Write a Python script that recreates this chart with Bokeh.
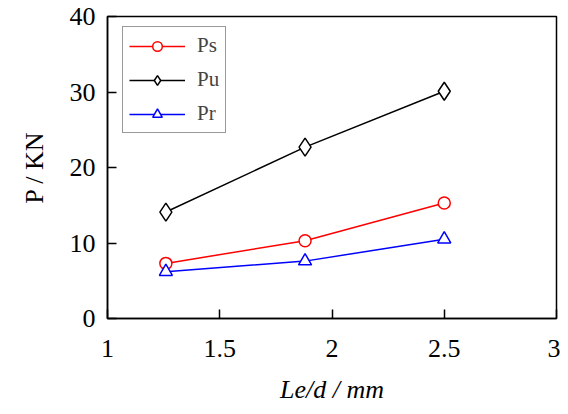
from bokeh.plotting import figure
from bokeh.models import Range1d, FixedTicker, Legend, LegendItem
from bokeh.embed import file_html
from bokeh.resources import INLINE

# Data
x_vals = [1.26, 1.88, 2.5]
ps_vals = [7.3, 10.3, 15.3]
pu_vals = [14.1, 22.7, 30.1]
pr_vals = [6.2, 7.6, 10.5]
x_ticks = [1, 1.5, 2, 2.5, 3]
y_ticks = [0, 10, 20, 30, 40]

FONT = "Liberation Serif"

p = figure(width=560, height=406, output_backend="svg", toolbar_location=None,
           x_range=Range1d(1, 3), y_range=Range1d(0, 40),
           min_border_left=107, min_border_right=4, min_border_top=16, min_border_bottom=88)
p.grid.visible = False
p.outline_line_color = "black"
p.outline_line_width = 1.5

p.axis.major_tick_in = 9
p.axis.major_tick_out = 0
p.axis.minor_tick_in = 0
p.axis.minor_tick_out = 0
p.axis.axis_line_width = 1.5
p.axis.major_tick_line_width = 1.5
p.axis.major_label_text_font = FONT
p.axis.major_label_text_font_size = "26px"
p.axis.major_label_text_color = "black"
p.axis.axis_label_text_font = FONT
p.axis.axis_label_text_font_size = "26px"
p.axis.axis_label_text_color = "black"

p.xaxis.ticker = FixedTicker(ticks=x_ticks)
p.yaxis.ticker = FixedTicker(ticks=y_ticks)
p.xaxis.major_label_overrides = {1: "1", 1.5: "1.5", 2: "2", 2.5: "2.5", 3: "3"}
p.xaxis.major_label_standoff = 21
p.yaxis.major_label_standoff = 12
p.xaxis.axis_label = "Le/d / mm"
p.xaxis.axis_label_text_font_style = "italic"
p.xaxis.axis_label_standoff = 15
p.yaxis.axis_label = "P / KN"
p.yaxis.axis_label_text_font_style = "normal"
p.yaxis.axis_label_standoff = 18

l1 = p.line(x_vals, ps_vals, color="red", line_width=1.5)
m1 = p.scatter(x_vals, ps_vals, marker="circle", size=12, line_color="red", fill_color="white", line_width=1.5)
l2 = p.line(x_vals, pu_vals, color="black", line_width=1.5)
m2 = p.scatter(x_vals, pu_vals, marker="diamond", size=18, line_color="black", fill_color="white", line_width=1.5)
l3 = p.line(x_vals, pr_vals, color="blue", line_width=1.5)
m3 = p.scatter(x_vals, pr_vals, marker="triangle", size=13, line_color="blue", fill_color="white", line_width=1.5)

legend = Legend(items=[
    LegendItem(label="Ps", renderers=[l1, m1]),
    LegendItem(label="Pu", renderers=[l2, m2]),
    LegendItem(label="Pr", renderers=[l3, m3]),
], location=(15, 185))
legend.label_text_font = FONT
legend.label_text_font_size = "21px"
legend.glyph_width = 56
legend.glyph_height = 24
legend.label_height = 24
legend.spacing = 9
legend.padding = 6
legend.label_standoff = 12
legend.border_line_color = "#333333"
legend.border_line_width = 1.2
legend.background_fill_alpha = 1
p.add_layout(legend)

open("out.html", "w").write(file_html(p, INLINE))
